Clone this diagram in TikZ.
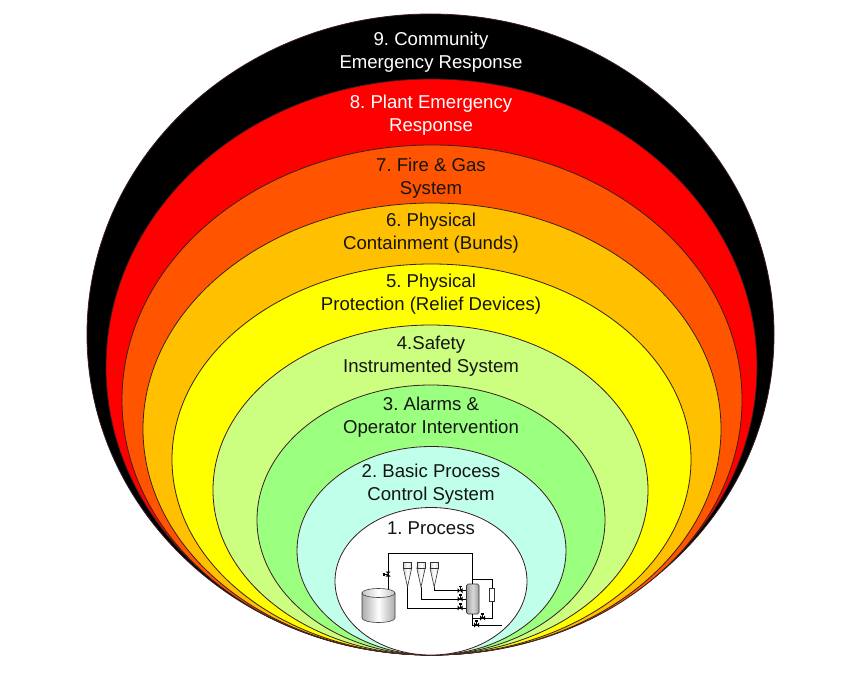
\documentclass[tikz,border=0pt]{standalone}
\usepackage{fontspec}
\setmainfont{Liberation Sans}
\frenchspacing
\definecolor{ringline}{RGB}{60,30,30}
\definecolor{cRed}{RGB}{255,0,0}
\definecolor{cOrange}{RGB}{255,85,0}
\definecolor{cAmber}{RGB}{255,192,0}
\definecolor{cYellow}{RGB}{255,255,0}
\definecolor{cLgreen}{RGB}{204,255,128}
\definecolor{cGreen}{RGB}{155,255,128}
\definecolor{cCyan}{RGB}{192,255,234}
\definecolor{txt}{RGB}{20,20,20}
\begin{document}
\begin{tikzpicture}[x=1pt,y=-1pt,
  ring/.style={draw=ringline, line width=0.8pt},
  lbl/.style={align=center, font=\fontsize{18.6}{22.7}\selectfont, text=txt, inner sep=0pt},
  pipe/.style={draw=black, line width=0.8pt},
  valveh/.pic={\fill[black] (-2.5,-2.5) -- (2.5,2.5) -- (2.5,-2.5) -- (-2.5,2.5) -- cycle;
               \draw[line width=0.8pt] (0,0) -- (0,-4.5); \fill[black] (-1.5,-5) rectangle (1.5,-3.5);},
  valvev/.pic={\fill[black] (-2.5,-2.5) -- (2.5,2.5) -- (-2.5,2.5) -- (2.5,-2.5) -- cycle;
               \draw[line width=0.8pt] (0,0) -- (-4.5,0); \fill[black] (-5,-1.5) rectangle (-3.5,1.5);},
  cone/.style={draw=black!80, line width=0.6pt, fill=white}
]
\useasboundingbox (0,0) rectangle (860,674);
\fill[white] (0,0) rectangle (860,674);
% nested rings
\path[ring, fill=black]   (430.5,334.5) ellipse [x radius=343.5pt, y radius=320.5pt];
\path[ring, fill=cRed]    (431.5,367)   ellipse [x radius=325.5pt, y radius=288pt];
\path[ring, fill=cOrange] (432,400)     ellipse [x radius=310pt,   y radius=255pt];
\path[ring, fill=cAmber]  (432,429)     ellipse [x radius=289pt,   y radius=226pt];
\path[ring, fill=cYellow] (431.5,459.5) ellipse [x radius=259.5pt, y radius=195.5pt];
\path[ring, fill=cLgreen] (430.5,490)   ellipse [x radius=217.5pt, y radius=165pt];
\path[ring, fill=cGreen]  (431,520)     ellipse [x radius=174pt,   y radius=135pt];
\path[ring, fill=cCyan]   (431.5,550.75) ellipse [x radius=134.5pt, y radius=104.25pt];
\path[ring, fill=white]   (431,581.25)  ellipse [x radius=96pt,    y radius=73.75pt];
% labels
\node[lbl, text=white] (t9) at (431,52)    {9. Community\\Emergency Response};
\node[lbl, text=white] (t8) at (431,115.5) {8. Plant Emergency\\Response};
\node[lbl] (t7) at (431,178.5) {7. Fire \& Gas\\System};
\node[lbl] (t6) at (431,233.5) {6. Physical\\Containment (Bunds)};
\node[lbl] (t5) at (431,294)   {5. Physical\\Protection (Relief Devices)};
\node[lbl] (t4) at (431,356.5) {4.Safety\\Instrumented System};
\node[lbl] (t3) at (431,417.5) {3. Alarms \&\\Operator Intervention};
\node[lbl] (t2) at (431,484.5) {2. Basic Process\\Control System};
\node[lbl] (t1) at (431,528)   {1. Process};
% process sketch: pipes
\coordinate (tanktop) at (388,589.5);
\coordinate (c1) at (407.5,587);
\coordinate (c2) at (421,587);
\coordinate (c3) at (434,587);
\node[draw=black!80, line width=0.6pt, rounded corners=1.5pt, minimum width=12.5pt, minimum height=30pt, inner sep=0pt,
      left color=gray!75, right color=gray!75, middle color=gray!30] (col) at (472.75,599) {};
\draw[pipe] (tanktop) -- (388,553) -| (col.north);
\draw[pipe] (c3) |- (col.west |- 0,590.7);
\draw[pipe] (c2) |- (col.west |- 0,599);
\draw[pipe] (c1) |- (col.west |- 0,608);
\coordinate (lp) at (472.75,579);
\draw[pipe] (lp) -- (492,579) -- (492,618) -- (472.75,618);
\draw[pipe] (col.south) -- (472.75,625) -- (502,625);
\node[draw=black!80, line width=0.6pt, fill=white, minimum width=5pt, minimum height=13pt, inner sep=0pt] (hx) at (491.5,594.5) {};
% valves
\pic at (460,590.7) {valveh};
\pic at (460,599) {valveh};
\pic at (460,608) {valveh};
\pic at (482.7,618) {valveh};
\pic at (476.7,625) {valveh};
\pic at (388,574) {valvev};
% cones
\foreach \cx/\nm in {407.5/k1,421/k2,434.2/k3}{
  \draw[cone, left color=gray!35, right color=gray!35, middle color=white] (\cx-4.2,568) -- (\cx+4.2,568) -- (\cx,587) -- cycle;
  \draw[cone, left color=gray!35, right color=gray!35, middle color=white] (\cx-4.2,562.7) rectangle (\cx+4.2,568);
}
% tank
\shade[left color=gray!65, right color=gray!65, middle color=white, draw=black!75, line width=0.6pt]
  (362,593) -- (362,618) arc[start angle=180, end angle=360, x radius=16.5pt, y radius=4.5pt] -- (395,593) -- cycle;
\shade[left color=gray!45, right color=gray!45, middle color=white, draw=black!75, line width=0.6pt]
  (378.5,593) ellipse [x radius=16.5pt, y radius=4.5pt];
\end{tikzpicture}
\end{document}
